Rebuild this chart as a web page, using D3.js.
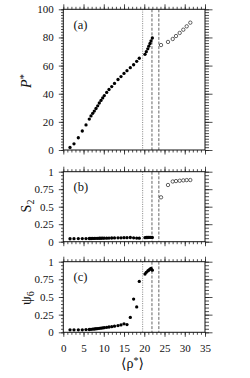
<!DOCTYPE html>
<html><head><meta charset="utf-8">
<script src="https://cdn.jsdelivr.net/npm/d3@7"></script>
<style>
html,body{margin:0;padding:0;background:#fff;}
svg{display:block;font-family:"Liberation Serif","Times New Roman","DejaVu Serif",serif;}
svg text{font-family:"Liberation Serif","Times New Roman","DejaVu Serif",serif;}
</style></head>
<body><svg id="c" width="250" height="378"></svg>
<script>
// ---- data ----
const rhoFilled = [1.66,2.64,3.71,4.69,5.61,6.42,6.84,7.26,7.66,8.08,8.50,8.89,9.31,9.73,10.13,10.72,11.29,11.96,12.65,13.51,14.25,14.99,15.73,16.55,17.37,18.13,18.77,
                   20.18,20.50,20.87,21.12,21.42,21.67,21.99];
const pFilled = [1.8,4.4,8.7,13.5,17.8,22.0,24.2,26.1,27.7,29.5,31.4,33.4,35.2,37.0,38.7,40.9,43.0,45.1,47.3,50.1,52.2,54.4,56.4,58.5,60.6,63.0,65.2,
                 68.0,69.9,71.9,73.8,75.7,77.6,79.6];
const s2Filled = [0.042,0.043,0.044,0.045,0.045,0.046,0.046,0.047,0.047,0.048,0.048,0.049,0.049,0.050,0.050,0.051,0.052,0.053,0.054,0.055,0.056,0.057,0.058,0.060,0.055,0.052,0.050,
                  0.058,0.060,0.060,0.061,0.062,0.062,0.060];
const psiFilled = [0.035,0.035,0.035,0.035,0.038,0.040,0.042,0.045,0.047,0.050,0.053,0.056,0.059,0.062,0.066,0.070,0.075,0.080,0.087,0.095,0.105,0.120,0.110,0.210,0.470,0.360,0.720,
                   0.825,0.850,0.870,0.880,0.895,0.905,0.880];
const rhoOpen = [24.14,25.86,27.03,27.84,28.75,29.64,30.48,31.37];
const pOpen = [74.6,76.8,78.9,81.0,83.2,85.5,87.9,90.5];
const s2Open = [0.634,0.810,0.860,0.866,0.871,0.876,0.880,0.881];
const dottedLine = [19.6];
const dashedLines = [21.9,23.6];
const xTicks = [0,5,10,15,20,25,30,35];
const pTicks = [0,20,40,60,80,100];
const unitTicks = [0,0.25,0.5,0.75,1];
const unitTickLabels = ["0","0.25","0.5","0.75","1"];

// ---- layout ----
const FONT = "'Liberation Serif','Times New Roman','DejaVu Serif',serif";
const svg = d3.select("#c");
const L = 63.3, R = 205;
const x = d3.scaleLinear().domain([0,35]).range([L,R]);
const panels = [
  {top:9.3, bot:150, domain:[0,100], ticks:pTicks, labels:pTicks.map(String), minor:d3.range(0,100.01,2), label:"(a)",
   filled:pFilled, open:pOpen},
  {top:171.7, bot:241.7, domain:[0,1], ticks:unitTicks, labels:unitTickLabels, minor:d3.range(0,1.001,0.05), label:"(b)",
   filled:s2Filled, open:s2Open},
  {top:261.7, bot:332.3, domain:[0,1], ticks:unitTicks, labels:unitTickLabels, minor:d3.range(0,1.001,0.05), label:"(c)",
   filled:psiFilled, open:null}
];
const fs = 11;
const xMinor = d3.range(0,35.01,1);

panels.forEach((p,i) => {
  const y = d3.scaleLinear().domain(p.domain).range([p.bot,p.top]);
  const g = svg.append("g");
  dottedLine.forEach(v => g.append("line").attr("x1",x(v)).attr("x2",x(v)).attr("y1",p.top).attr("y2",p.bot)
    .attr("stroke","#666").attr("stroke-width",0.8).attr("stroke-dasharray","1,1.3"));
  dashedLines.forEach(v => g.append("line").attr("x1",x(v)).attr("x2",x(v)).attr("y1",p.top).attr("y2",p.bot)
    .attr("stroke","#666").attr("stroke-width",1).attr("stroke-dasharray","3,1.6"));

  const mk = (axis, tr) => {
    const a = g.append("g").attr("transform",tr).call(axis);
    a.attr("font-family",FONT).attr("font-size",fs);
    a.select(".domain").remove();
    a.selectAll("line").attr("stroke","#222").attr("stroke-width",0.8);
    a.selectAll("text").attr("font-family",FONT).attr("font-size",fs).attr("fill","#111");
    return a;
  };
  mk(d3.axisLeft(y).tickValues(p.minor).tickSize(2.3).tickFormat(""), `translate(${L},0)`);
  mk(d3.axisLeft(y).tickValues(p.ticks).tickSize(4.5).tickPadding(5).tickFormat((d,k)=>p.labels[k]), `translate(${L},0)`);
  mk(d3.axisRight(y).tickValues(p.minor).tickSize(4).tickFormat(""), `translate(${R},0)`);
  mk(d3.axisRight(y).tickValues(p.ticks).tickSize(7.5).tickFormat(""), `translate(${R},0)`);
  mk(d3.axisTop(x).tickValues(xMinor).tickSize(2.5).tickFormat(""), `translate(0,${p.top})`);
  mk(d3.axisTop(x).tickValues(xTicks).tickSize(5).tickFormat(""), `translate(0,${p.top})`);
  mk(d3.axisBottom(x).tickValues(xMinor).tickSize(2.5).tickFormat(""), `translate(0,${p.bot})`);
  mk(d3.axisBottom(x).tickValues(xTicks).tickSize(4.5).tickPadding(7).tickFormat(i===2? d3.format("d") : ""), `translate(0,${p.bot})`);

  g.append("rect").attr("x",L).attr("y",p.top).attr("width",R-L).attr("height",p.bot-p.top)
    .attr("fill","none").attr("stroke","#111").attr("stroke-width",1);

  g.selectAll("circle.f").data(rhoFilled).join("circle").attr("class","f")
    .attr("cx",d=>x(d)).attr("cy",(d,k)=>y(p.filled[k])).attr("r",1.65).attr("fill","#000");
  if (p.open) {
    g.selectAll("circle.o").data(rhoOpen).join("circle").attr("class","o")
      .attr("cx",d=>x(d)).attr("cy",(d,k)=>y(p.open[k])).attr("r",1.7)
      .attr("fill","#fff").attr("stroke","#222").attr("stroke-width",0.7);
  }
  g.append("text").attr("x",73.5).attr("y",p.top+19.5).attr("font-family",FONT).attr("font-size",12.5).attr("fill","#111").text(p.label);
});

const yt = (cy, build) => {
  const t = svg.append("text").attr("transform",`translate(31,${cy}) rotate(-90)`)
    .attr("text-anchor","middle").attr("font-family",FONT).attr("font-size",14).attr("fill","#111");
  build(t);
};
yt(81, t => { t.append("tspan").attr("font-style","italic").text("P"); t.append("tspan").attr("dy",-4).attr("font-size",11).text("*"); });
yt(206, t => { t.append("tspan").text("S"); t.append("tspan").attr("dy",3).attr("font-size",10).text("2"); });
yt(298, t => { t.append("tspan").text("ψ"); t.append("tspan").attr("dy",3).attr("font-size",10).text("6"); });

const xt = svg.append("text").attr("x",132.5).attr("y",368).attr("text-anchor","middle").attr("font-family",FONT).attr("font-size",14).attr("fill","#111");
xt.append("tspan").text("⟨ρ");
xt.append("tspan").attr("dy",-4).attr("font-size",10).text("*");
xt.append("tspan").attr("dy",4).text("⟩");
</script></body></html>
